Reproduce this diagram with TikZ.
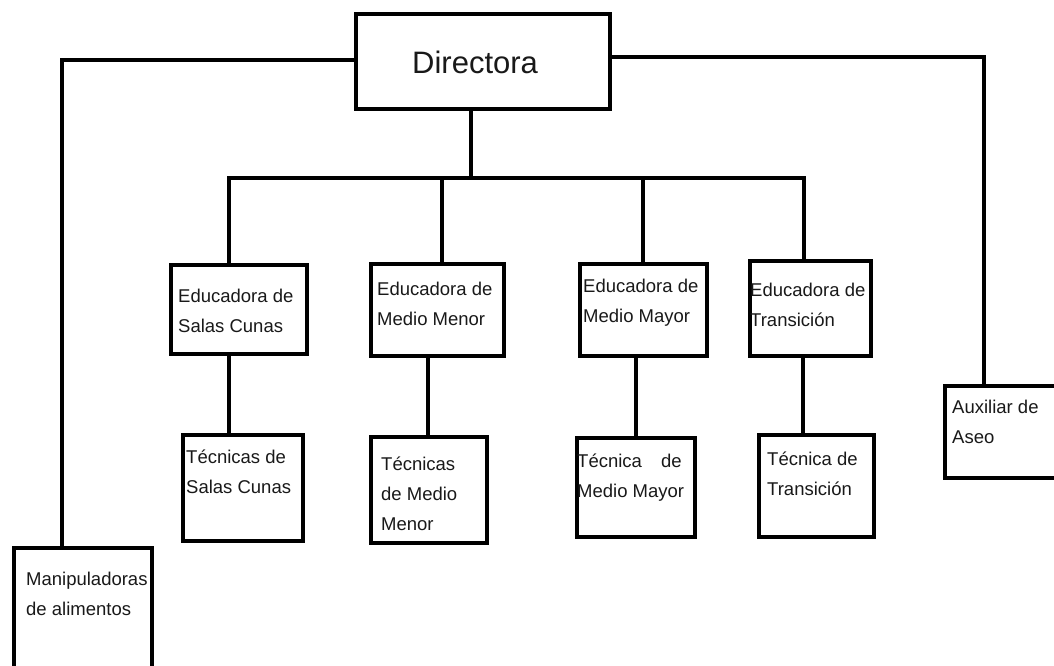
\documentclass[tikz,border=0pt]{standalone}
\usepackage{fontspec}
\setmainfont{Liberation Sans}
\begin{document}
\begin{tikzpicture}[x=1pt,y=-1pt,
  box/.style={draw=black, line width=4pt, inner sep=0pt, outer sep=0pt, anchor=north west},
  lbl/.style={anchor=base west, inner sep=0pt, text=black!90, font=\fontsize{18.5}{30}\selectfont},
  link/.style={draw=black, line width=4pt, line join=miter}]
\useasboundingbox (0,0) rectangle (1054,665);
\clip (0,0) rectangle (1054,665);
\fill[white] (0,0) rectangle (1054,665);
% boxes
\node[box, minimum width=254pt, minimum height=95pt] (dir) at (356,14) {};
\node[box, minimum width=136pt, minimum height=89pt] (e1) at (171,265) {};
\node[box, minimum width=133pt, minimum height=92pt] (e2) at (371,264) {};
\node[box, minimum width=127pt, minimum height=92pt] (e3) at (580,264) {};
\node[box, minimum width=121pt, minimum height=95pt] (e4) at (750,261) {};
\node[box, minimum width=120pt, minimum height=106pt] (t1) at (183,435) {};
\node[box, minimum width=116pt, minimum height=106pt] (t2) at (371,437) {};
\node[box, minimum width=118pt, minimum height=99pt] (t3) at (577,438) {};
\node[box, minimum width=115pt, minimum height=102pt] (t4) at (759,435) {};
\node[box, minimum width=125pt, minimum height=92pt] (aux) at (945,386) {};
\node[box, minimum width=138pt, minimum height=140pt] (man) at (14,548) {};
% texts
\node[anchor=base west, inner sep=0pt, text=black!90, font=\fontsize{31}{36}\selectfont] (dirt) at (412,73) {Directora};
\node[lbl] (e1t) at (178,302) {\begin{tabular}[t]{@{}l@{}}Educadora de\\Salas Cunas\end{tabular}};
\node[lbl] (e2t) at (377,295) {\begin{tabular}[t]{@{}l@{}}Educadora de\\Medio Menor\end{tabular}};
\node[lbl] (e3t) at (583,292) {\begin{tabular}[t]{@{}l@{}}Educadora de\\Medio Mayor\end{tabular}};
\node[lbl] (e4t) at (750,296) {\begin{tabular}[t]{@{}l@{}}Educadora de\\Transición\end{tabular}};
\node[lbl] (t1t) at (186,463) {\begin{tabular}[t]{@{}l@{}}Técnicas de\\Salas Cunas\end{tabular}};
\node[lbl] (t2t) at (381,470) {\begin{tabular}[t]{@{}l@{}}Técnicas\\de Medio\\Menor\end{tabular}};
\node[lbl] (t3t) at (577,467) {\begin{tabular}[t]{@{}l@{}}Técnica\hspace{14pt} de\\Medio Mayor\end{tabular}};
\node[lbl] (t4t) at (767,465) {\begin{tabular}[t]{@{}l@{}}Técnica de\\Transición\end{tabular}};
\node[lbl] (auxt) at (952,413) {\begin{tabular}[t]{@{}l@{}}Auxiliar de\\Aseo\end{tabular}};
\node[lbl] (mant) at (26,585) {\begin{tabular}[t]{@{}l@{}}Manipuladoras\\de alimentos\end{tabular}};
% connector coordinates
\coordinate (bm) at (471,178);
\coordinate (b1) at (229,178);
\coordinate (b2) at (442,178);
\coordinate (b3) at (643,178);
\coordinate (b4) at (804,178);
\coordinate (c2) at (428,0);
\coordinate (c3) at (636,0);
\coordinate (c4) at (803,0);
\coordinate (lc) at (62,60);
\coordinate (rc) at (984,57);
% connectors
\draw[link] (bm |- dir.south) -- (bm);
\draw[link] (b1 |- e1.north) -- (b1) -- (b4) -- (b4 |- e4.north);
\draw[link] (b2) -- (b2 |- e2.north);
\draw[link] (b3) -- (b3 |- e3.north);
\draw[link] (b1 |- e1.south) -- (b1 |- t1.north);
\draw[link] (c2 |- e2.south) -- (c2 |- t2.north);
\draw[link] (c3 |- e3.south) -- (c3 |- t3.north);
\draw[link] (c4 |- e4.south) -- (c4 |- t4.north);
\draw[link] (lc -| dir.west) -- (lc) -- (lc |- man.north);
\draw[link] (rc -| dir.east) -- (rc) -- (rc |- aux.north);
\end{tikzpicture}
\end{document}
